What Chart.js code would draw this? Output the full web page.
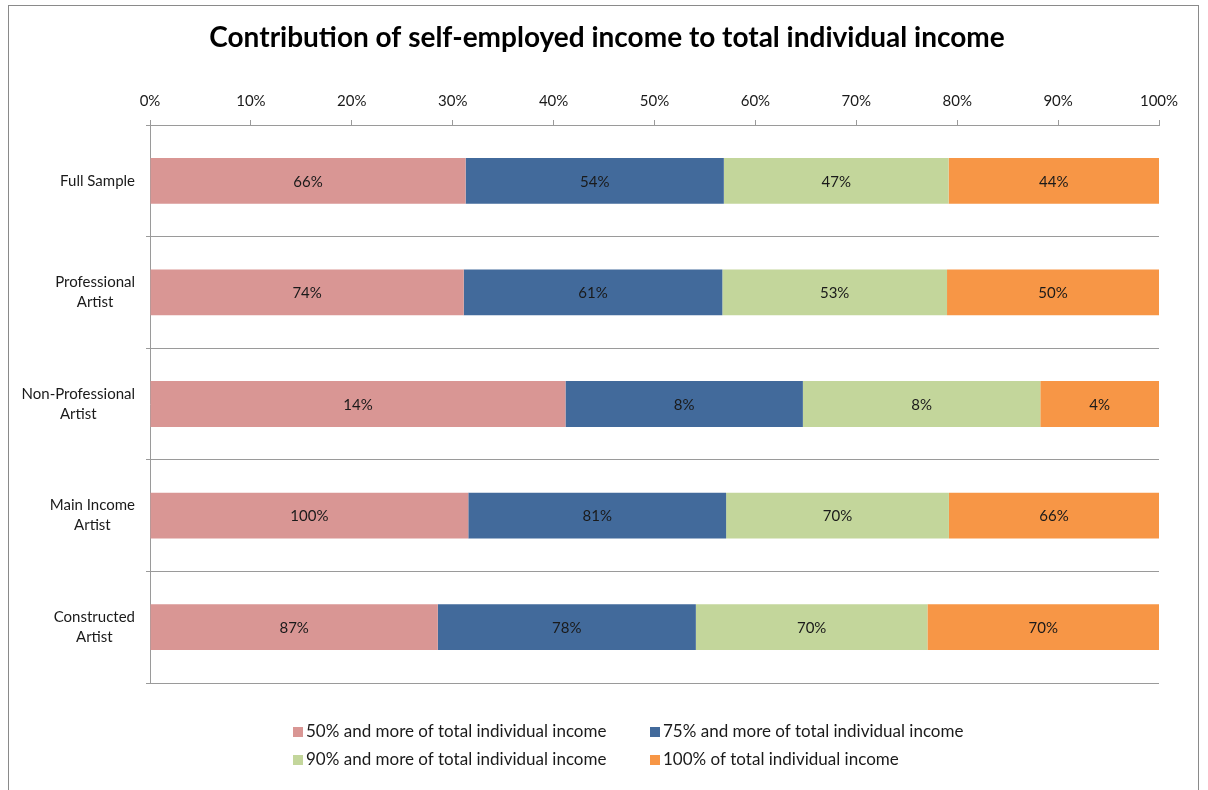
<!DOCTYPE html>
<html>
<head>
<meta charset="utf-8">
<script src="https://cdn.jsdelivr.net/npm/chart.js@4"></script>
<style>
  html, body { margin: 0; padding: 0; background: #fff; }
  #wrap { width: 1208px; height: 790px; }
</style>
</head>
<body>
<div id="wrap"><canvas id="incomeChart" width="1208" height="790"></canvas></div>
<script>
  // groups (rows) and their share of people for each income threshold, in %
  const groups = [['Full Sample'], ['Professional', 'Artist'], ['Non-Professional', 'Artist'], ['Main Income', 'Artist'], ['Constructed', 'Artist']];
  const seriesNames = ['50% and more of total individual income', '75% and more of total individual income', '90% and more of total individual income', '100% of total individual income'];
  const share50 = [66, 74, 14, 100, 87];
  const share75 = [54, 61, 8, 81, 78];
  const share90 = [47, 53, 8, 70, 70];
  const share100 = [44, 50, 4, 66, 70];
  const xTicks = [0, 10, 20, 30, 40, 50, 60, 70, 80, 90, 100];
  const chartTitle = 'Contribution of self-employed income to total individual income';

  const colors = ['#d99694', '#426a9b', '#c3d69b', '#f79646'];
  const raw = [share50, share75, share90, share100];

  // 100% stacked: each row is scaled by its own total
  const rowTotals = groups.map((g, i) => raw.reduce((s, arr) => s + arr[i], 0));
  const pct = raw.map(arr => arr.map((v, i) => v / rowTotals[i] * 100));

  const FONT = 'Lato, "Open Sans", sans-serif';
  Chart.defaults.font.family = FONT;
  Chart.defaults.color = '#1a1a1a';

  // white background, outer frame and the title centred on the canvas
  const frame = {
    id: 'frame',
    beforeDraw(chart) {
      const ctx = chart.ctx;
      ctx.save();
      ctx.fillStyle = '#fff';
      ctx.fillRect(0, 0, chart.width, chart.height);
      ctx.strokeStyle = '#8a8a8a';
      ctx.lineWidth = 1;
      ctx.strokeRect(8.5, 5.5, 1190, 900);
      ctx.font = 'bold 28px ' + FONT;
      ctx.fillStyle = '#000';
      ctx.textAlign = 'center';
      ctx.textBaseline = 'middle';
      ctx.fillText(chartTitle, 607, 38);
      ctx.restore();
    }
  };

  // value labels in the middle of each segment
  const segmentLabels = {
    id: 'segmentLabels',
    afterDatasetsDraw(chart) {
      const ctx = chart.ctx;
      ctx.save();
      ctx.font = '15px ' + FONT;
      ctx.fillStyle = '#1a1a1a';
      ctx.textAlign = 'center';
      ctx.textBaseline = 'middle';
      chart.data.datasets.forEach((ds, d) => {
        chart.getDatasetMeta(d).data.forEach((bar, i) => {
          const cx = (bar.x + bar.base) / 2;
          ctx.fillText(raw[d][i] + '%', cx, bar.y + 1);
        });
      });
      ctx.restore();
    }
  };

  // row names: lines centred on each other, block right-aligned to the axis
  const rowNames = {
    id: 'rowNames',
    afterDraw(chart) {
      const ctx = chart.ctx;
      const yScale = chart.scales.y;
      const right = yScale.left - 11;
      ctx.save();
      ctx.font = '15px ' + FONT;
      ctx.fillStyle = '#1a1a1a';
      ctx.textAlign = 'center';
      ctx.textBaseline = 'middle';
      groups.forEach((lines, i) => {
        const y = yScale.getPixelForValue(i);
        const w = Math.max(...lines.map(l => ctx.measureText(l).width));
        const cx = right - w / 2;
        const y0 = y - (lines.length - 1) * 10;
        lines.forEach((l, k) => ctx.fillText(l, cx, y0 + k * 20));
      });
      ctx.restore();
    }
  };

  // two-column legend under the plot
  const gridLegend = {
    id: 'gridLegend',
    afterDraw(chart) {
      const ctx = chart.ctx;
      ctx.save();
      ctx.font = '17px ' + FONT;
      ctx.textBaseline = 'middle';
      const colX = [293, 650];
      const rowY = [732, 760];
      chart.data.datasets.forEach((ds, d) => {
        const x = colX[d % 2];
        const y = rowY[Math.floor(d / 2)];
        ctx.fillStyle = ds.backgroundColor;
        ctx.fillRect(x, y - 5, 10, 10);
        ctx.fillStyle = '#1a1a1a';
        ctx.fillText(ds.label, x + 13, y);
      });
      ctx.restore();
    }
  };

  new Chart(document.getElementById('incomeChart'), {
    type: 'bar',
    data: {
      labels: groups.map(g => g.join(' ')),
      datasets: seriesNames.map((name, d) => ({
        label: name,
        data: pct[d],
        backgroundColor: colors[d],
        borderWidth: 0,
        barPercentage: 0.41,
        categoryPercentage: 1
      }))
    },
    options: {
      indexAxis: 'y',
      responsive: false,
      animation: false,
      layout: { padding: { top: 82, left: 146, right: 49, bottom: 107 } },
      scales: {
        x: {
          position: 'top',
          stacked: true,
          min: 0,
          max: 100,
          afterBuildTicks(scale) { scale.ticks = xTicks.map(v => ({ value: v })); },
          ticks: { callback: v => v + '%', font: { size: 15 }, color: '#1a1a1a', padding: 10, maxRotation: 0 },
          grid: { drawOnChartArea: false, tickLength: 5, color: '#9a9a9a' },
          border: { color: '#9a9a9a' }
        },
        y: {
          stacked: true,
          ticks: { display: false },
          grid: { color: '#9a9a9a', tickLength: 4, offset: true },
          border: { color: '#9a9a9a' }
        }
      },
      plugins: {
        legend: { display: false },
        tooltip: { enabled: false },
        title: { display: false }
      }
    },
    plugins: [frame, segmentLabels, rowNames, gridLegend]
  });
</script>
</body>
</html>
